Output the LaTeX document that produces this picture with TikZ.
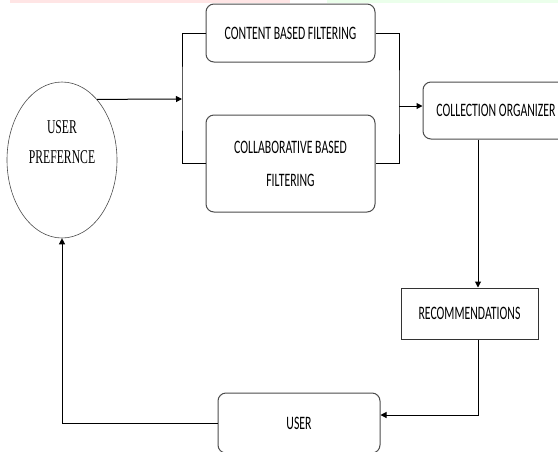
\documentclass[tikz,border=0pt]{standalone}
\usepackage{fontspec}
\usepackage{graphicx}
\setmainfont{Liberation Serif}
\setsansfont{Carlito}
\usetikzlibrary{arrows.meta,shapes.geometric,positioning}
\newcommand{\sqz}[1]{\scalebox{0.62}[1]{#1}}
\newcommand{\sqs}[1]{\scalebox{0.6}[1]{#1}}
\tikzset{
  box/.style={draw=black!70, line width=1pt, rounded corners=8pt, inner sep=0pt,
    font=\sffamily\fontsize{19}{33}\selectfont, align=center, text=black},
  sqbox/.style={draw=black!80, line width=1pt, inner sep=0pt,
    font=\sffamily\fontsize{19}{33}\selectfont, text=black},
  conn/.style={line width=1pt, black},
  arr/.style={conn, -{Triangle[length=6pt,width=6pt]}},
}
\begin{document}
\begin{tikzpicture}[x=1pt,y=-1pt]
\useasboundingbox (0,0) rectangle (558,451);
\clip (0,0) rectangle (558,451);
\fill[white] (0,0) rectangle (558,451);
\fill[red!10] (10,0) rectangle (290,3);
\fill[green!8] (327,0) rectangle (558,3);

\node[ellipse, draw=black!70, line width=0.6pt, minimum width=110pt, minimum height=156pt, inner sep=0pt] (up) at (62,160) {};
\node[font=\rmfamily\fontsize{19.5}{30}\selectfont, align=center] (upt) at (62,142) {\sqs{USER}\\\sqs{PREFERNCE}};

\node[box, minimum width=169pt, minimum height=58pt] (cb) at (290.5,33) {\sqz{CONTENT BASED FILTERING}};
\node[box, minimum width=169pt, minimum height=97pt] (col) at (290.5,163.5) {\sqz{COLLABORATIVE BASED}\\\sqz{FILTERING}};
\node[box, minimum width=146pt, minimum height=57pt] (co) at (496,110.5) {\sqz{COLLECTION ORGANIZER}};
\node[sqbox, minimum width=137pt, minimum height=51pt] (rec) at (469.5,313.5) {\sqz{RECOMMENDATIONS}\hspace{19pt}};
\node[box, minimum width=162pt, minimum height=60pt] (us) at (299,423) {\sqz{USER}};

\coordinate (sp) at (182,99);
\coordinate (mg) at (399,106);
\coordinate (r1) at (478,0);

\draw[arr] (up.60.6) -- (sp);
\draw[conn] (cb.west) -| (sp) |- (col.west);
\draw[conn] (cb.east) -| (mg) |- (col.east);
\draw[arr] (mg) -- (mg -| co.west);
\draw[arr] (co.south -| r1) -- (rec.north -| r1);
\draw[arr] (rec.south -| r1) |- ([yshift=8pt]us.east);
\draw[arr] (us.west) -| (up.south);
\end{tikzpicture}
\end{document}
